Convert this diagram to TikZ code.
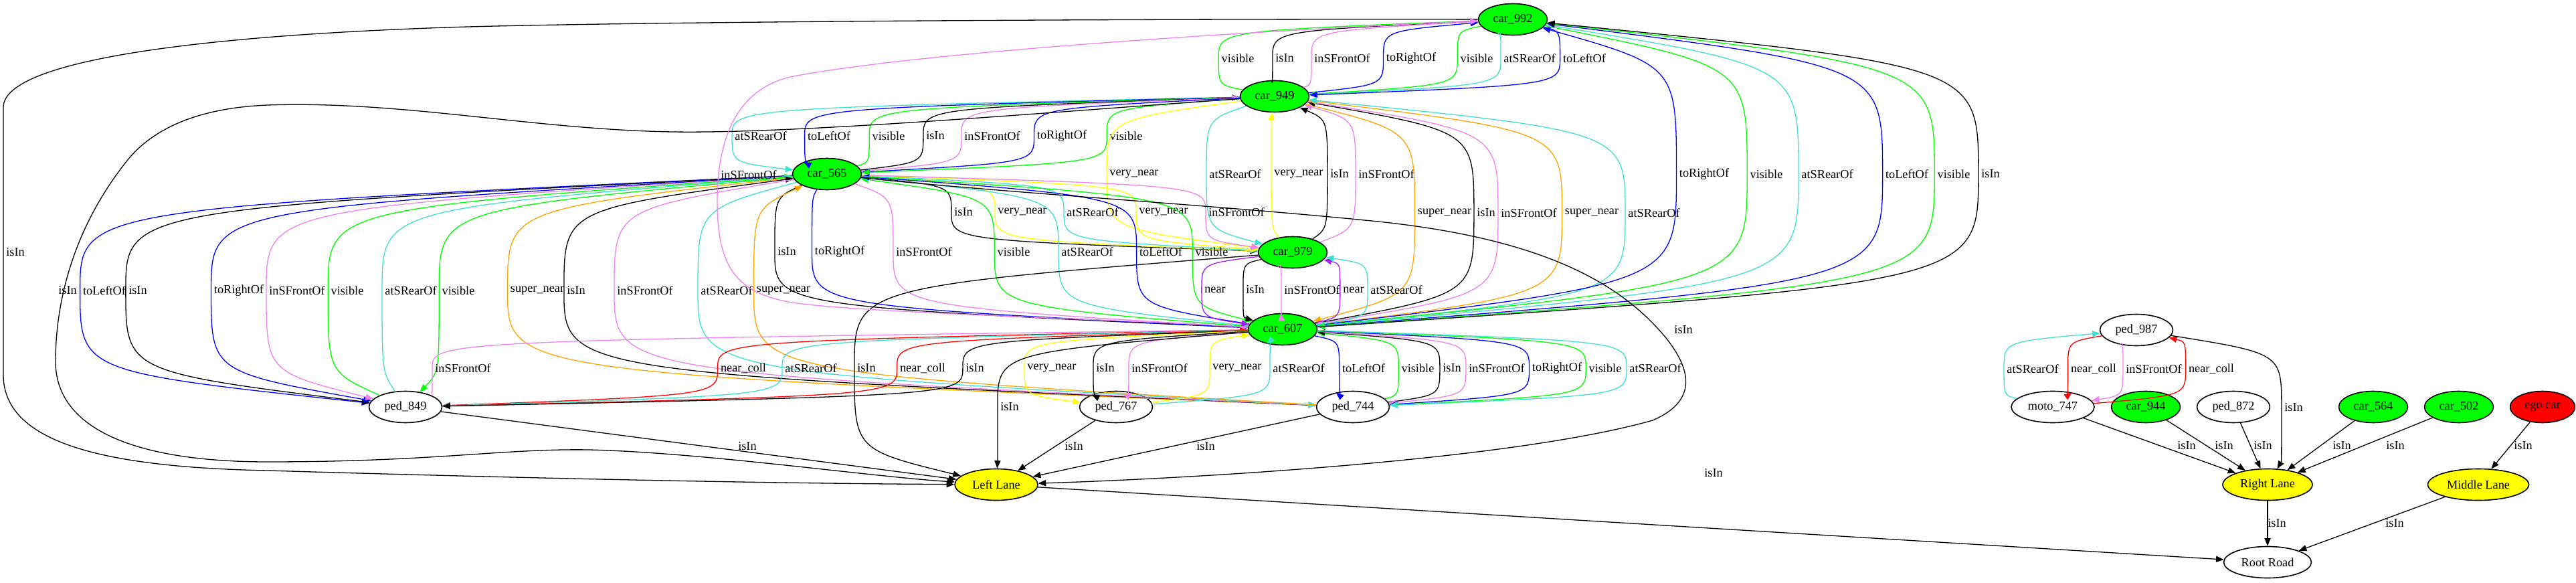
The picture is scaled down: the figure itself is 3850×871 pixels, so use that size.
\documentclass[tikz,border=0pt]{standalone}
\usepackage{fontspec}
\setmainfont{Liberation Serif}
\usetikzlibrary{shapes.geometric,arrows.meta,calc}
\definecolor{gvgreen}{RGB}{0,255,0}
\definecolor{gvblue}{RGB}{0,0,255}
\definecolor{gvcyan}{RGB}{64,224,208}
\definecolor{gvviolet}{RGB}{238,130,238}
\definecolor{gvorange}{RGB}{255,165,0}
\definecolor{gvyellow}{RGB}{255,255,0}
\definecolor{gvred}{RGB}{255,0,0}
\definecolor{gvpurple}{RGB}{160,32,240}
\newcounter{ecnt}
\tikzset{
 gnode/.style={ellipse, draw=black, line width=0.8pt, inner sep=0pt, minimum height=23.5pt, font=\fontsize{9.14}{10}\selectfont},
 car/.style={gnode, fill=gvgreen, minimum width=51.5pt},
 ped/.style={gnode, fill=white, minimum width=54.5pt},
 lane/.style={gnode, fill=gvyellow},
 edge/.style={line width=0.65pt, -{Triangle[length=5.8pt,width=4.6pt]}},
 lab/.style={inner sep=0pt, font=\fontsize{9.14}{10}\selectfont},
}
\newcommand\Ed[6][black]{%
 \stepcounter{ecnt}%
 \node[lab] (l\theecnt) at (#4,#5) {#6};
 \coordinate (m\theecnt) at ($(l\theecnt.west)+(-4,0)$);
 \draw[edge,#1] let \p1=(#2), \p2=(#3), \p3=(m\theecnt) in
   (#2) .. controls (\x3,{\y3+0.7*((\y1)-(\y3))}) .. (m\theecnt) .. controls (\x3,{\y3+0.7*((\y2)-(\y3))}) .. (#3);
}
\newcommand\Sd[6][black]{%
 \stepcounter{ecnt}%
 \draw[edge,#1] (#2) -- (#3);
 \node[lab] (l\theecnt) at (#4,#5) {#6};
}
\begin{document}
\begin{tikzpicture}[x=0.5pt,y=-0.5pt]
\useasboundingbox (0,0) rectangle (3850,871);
% nodes
\node[car] (A) at (2261,29) {car\_992};
\node[car] (B) at (1905,144) {car\_949};
\node[car] (C) at (1236,260) {car\_565};
\node[car] (D) at (1932,377) {car\_979};
\node[car] (E) at (1917,492) {car\_607};
\node[ped] (P1) at (606,608) {ped\_849};
\node[ped] (P2) at (1668,608) {ped\_767};
\node[ped] (P3) at (2022,608) {ped\_744};
\node[lane, minimum width=62pt] (L) at (1489,724) {Left Lane};
\node[ped] (Q) at (3193,493) {ped\_987};
\node[ped, minimum width=62pt] (M7) at (3068,608) {moto\_747};
\node[car] (C944) at (3207,608) {car\_944};
\node[ped] (P872) at (3338,608) {ped\_872};
\node[car] (C564) at (3547,608) {car\_564};
\node[car] (C502) at (3675,608) {car\_502};
\node[car, fill=gvred, minimum width=48.5pt] (EGO) at (3800,608) {ego car};
\node[lane, minimum width=67pt] (RL) at (3389,724) {Right Lane};
\node[lane, minimum width=75.5pt] (ML) at (3704,724) {Middle Lane};
\node[gnode, fill=white, minimum width=65.5pt] (RR) at (3389,840) {Root Road};
% A-B
\Ed[gvgreen]{B}{A}{1850}{87}{visible}
\Ed{B}{A}{1920}{87}{isIn}
\Ed[gvviolet]{B}{A}{2006}{87}{inSFrontOf}
\Ed[gvblue]{B}{A}{2109}{87}{toRightOf}
\Ed[gvgreen]{A}{B}{2207}{87}{visible}
\Ed[gvcyan]{A}{B}{2286}{87}{atSRearOf}
\Ed[gvblue]{A}{B}{2368}{87}{toLeftOf}
% B-C
\Ed[gvcyan]{B}{C}{1137}{203}{atSRearOf}
\Ed[gvblue]{B}{C}{1239}{203}{toLeftOf}
\Ed[gvgreen]{C}{B}{1328}{203}{visible}
\Ed{C}{B}{1398}{203}{isIn}
\Ed[gvviolet]{C}{B}{1483}{203}{inSFrontOf}
\Ed[gvblue]{B}{C}{1587}{203}{toRightOf}
\Ed[gvgreen]{B}{C}{1683}{203}{visible}
% B-D
\Ed[gvyellow]{B}{D}{1695}{260}{very\_near}
\Ed[gvcyan]{B}{D}{1846}{260}{atSRearOf}
\Ed[gvyellow]{D}{B}{1941}{260}{very\_near}
\Ed{D}{B}{2002}{260}{isIn}
\Ed[gvviolet]{D}{B}{2072}{260}{inSFrontOf}
% B-E
\Ed[gvorange]{B}{E}{2159}{318}{super\_near}
\Ed{E}{B}{2221}{318}{isIn}
\Ed[gvviolet]{B}{E}{2285}{318}{inSFrontOf}
\Ed[gvorange]{E}{B}{2379}{318}{super\_near}
\Ed[gvcyan]{E}{B}{2472}{318}{atSRearOf}
% A-E
\Ed[gvblue]{E}{A}{2547}{260}{toRightOf}
\Ed[gvgreen]{A}{E}{2640}{260}{visible}
\Ed[gvcyan]{A}{E}{2731}{260}{atSRearOf}
\Ed[gvblue]{E}{A}{2850}{260}{toLeftOf}
\Ed[gvgreen]{A}{E}{2920}{260}{visible}
\Ed{E}{A}{2975}{260}{isIn}
% C-D
\Ed{C}{D}{1440}{317}{isIn}
\Ed[gvyellow]{D}{C}{1528}{317}{very\_near}
\Ed[gvcyan]{C}{D}{1633}{317}{atSRearOf}
\Ed[gvyellow]{C}{D}{1739}{317}{very\_near}
\Ed[gvviolet]{C}{D}{1848}{317}{inSFrontOf}
% C-E
\Ed{C}{E}{1176}{376}{isIn}
\Ed[gvblue]{C}{E}{1255}{376}{toRightOf}
\Ed[gvviolet]{C}{E}{1381}{376}{inSFrontOf}
\Ed[gvgreen]{E}{C}{1515}{376}{visible}
\Ed[gvcyan]{E}{C}{1625}{376}{atSRearOf}
\Ed[gvblue]{E}{C}{1735}{376}{toLeftOf}
\Ed[gvgreen]{C}{E}{1811}{376}{visible}
% D-E
\Ed[gvpurple]{D}{E}{1816}{433}{near}
\Ed{D}{E}{1876}{433}{isIn}
\Ed[gvviolet]{D}{E}{1961}{433}{inSFrontOf}
\Ed[gvpurple]{E}{D}{2023}{433}{near}
\Ed[gvcyan]{E}{D}{2087}{433}{atSRearOf}
% C-P1
\Ed[gvblue]{C}{P1}{156}{434}{toLeftOf}
\Ed{C}{P1}{206}{434}{isIn}
\Ed[gvblue]{C}{P1}{357}{434}{toRightOf}
\Ed[gvviolet]{C}{P1}{444}{434}{inSFrontOf}
\Ed[gvgreen]{P1}{C}{519}{434}{visible}
\Ed[gvcyan]{P1}{C}{614}{434}{atSRearOf}
\Ed[gvgreen]{C}{P1}{685}{434}{visible}
% C-P3
\Ed[gvorange]{C}{P3}{803}{434}{super\_near}
\Ed{P3}{C}{861}{434}{isIn}
\Ed[gvviolet]{C}{P3}{964}{434}{inSFrontOf}
\Ed[gvcyan]{C}{P3}{1086}{434}{atSRearOf}
\Ed[gvorange]{P3}{C}{1171}{434}{super\_near}
% E-P1
\Ed[gvviolet]{P1}{E}{692}{550}{inSFrontOf}
\Ed[gvred]{E}{P1}{1111}{550}{near\_coll}
\Ed[gvcyan]{E}{P1}{1212}{550}{atSRearOf}
\Ed{D}{L}{1295}{550}{isIn}
\Ed[gvred]{P1}{E}{1379}{550}{near\_coll}
\Ed{E}{P1}{1457}{550}{isIn}
% E-P2
\Ed[gvyellow]{E}{P2}{1572}{550}{very\_near}
\Ed{E}{P2}{1652}{550}{isIn}
\Ed[gvviolet]{E}{P2}{1733}{550}{inSFrontOf}
\Ed[gvyellow]{P2}{E}{1849}{550}{very\_near}
\Ed[gvcyan]{P2}{E}{1941}{550}{atSRearOf}
% E-P3
\Ed[gvblue]{E}{P3}{2038}{550}{toLeftOf}
\Ed[gvgreen]{P3}{E}{2119}{550}{visible}
\Ed{P3}{E}{2170}{550}{isIn}
\Ed[gvviolet]{E}{P3}{2237}{550}{inSFrontOf}
\Ed[gvblue]{E}{P3}{2327}{550}{toRightOf}
\Ed[gvgreen]{E}{P3}{2399}{550}{visible}
\Ed[gvcyan]{E}{P3}{2474}{550}{atSRearOf}
% lanes
\Ed{E}{L}{1509}{608}{isIn}
\Sd{P1}{L}{1117}{667}{isIn}
\Sd{P2}{L}{1605}{667}{isIn}
\Sd{P3}{L}{1802}{667}{isIn}
\Sd{L}{RR}{2561}{707}{isIn}
% long edges
\draw[edge] (A) .. controls (1700,28) and (1000,32) .. (700,40) .. controls (300,52) and (6,90) .. (5,160) -- (5,560) .. controls (5,660) and (150,698) .. (400,703) .. controls (700,712) and (1100,722) .. (L);
\node[lab, anchor=west] (lA) at (9,377) {isIn};
\draw[edge] (B) .. controls (1600,165) and (1200,200) .. (1006,197) .. controls (800,194) and (600,150) .. (400,157) .. controls (300,161) and (230,190) .. (190,240) .. controls (110,340) and (83,450) .. (83,540) .. controls (83,640) and (200,690) .. (400,690) .. controls (650,690) and (750,670) .. (880,672) .. controls (1050,676) and (1300,712) .. (L);
\node[lab, anchor=west] (lB) at (87,434) {isIn};
\draw[edge] (C) .. controls (1500,288) and (1800,305) .. (2050,330) .. controls (2300,355) and (2420,420) .. (2490,505) .. controls (2530,555) and (2535,600) .. (2470,628) .. controls (2250,690) and (1750,716) .. (L);
\node[lab, anchor=west] (lC) at (2502,493) {isIn};
\draw[edge,gvviolet] (E) .. controls (1700,478) and (1300,468) .. (1191,453) .. controls (1100,440) and (1072,400) .. (1072,300) .. controls (1072,180) and (1120,125) .. (1191,113) .. controls (1400,75) and (1900,45) .. (A);
\node[lab, anchor=west] (lE) at (1077,261) {inSFrontOf};
% right cluster
\Ed[gvcyan]{M7}{Q}{3038}{551}{atSRearOf}
\Ed[gvred]{Q}{M7}{3129}{551}{near\_coll}
\Ed[gvviolet]{Q}{M7}{3219}{551}{inSFrontOf}
\Ed[gvred]{M7}{Q}{3305}{551}{near\_coll}
\Ed{Q}{RL}{3428}{609}{isIn}
\Sd{M7}{RL}{3268}{666}{isIn}
\Sd{C944}{RL}{3324}{666}{isIn}
\Sd{P872}{RL}{3382}{666}{isIn}
\Sd{C564}{RL}{3500}{666}{isIn}
\Sd{C502}{RL}{3580}{666}{isIn}
\Sd{EGO}{ML}{3771}{666}{isIn}
\Sd{RL}{RR}{3403}{782}{isIn}
\Sd{ML}{RR}{3579}{782}{isIn}
\end{tikzpicture}
\end{document}
